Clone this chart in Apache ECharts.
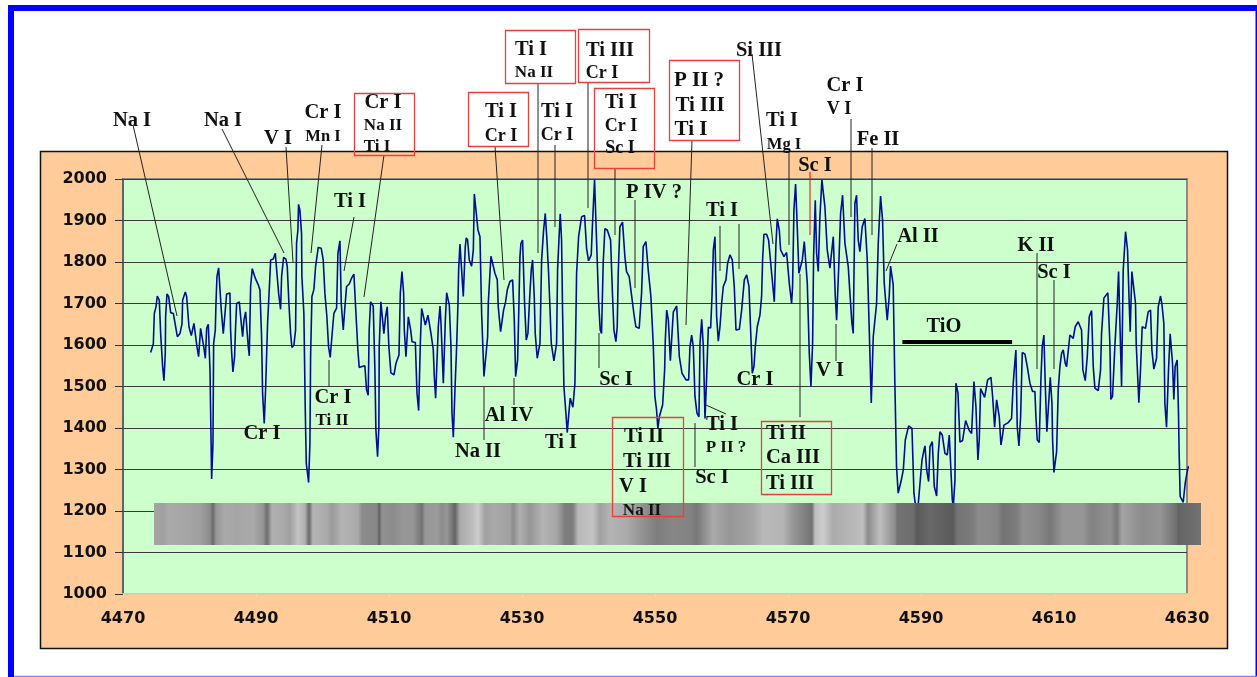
<!DOCTYPE html>
<html><head><meta charset="utf-8">
<style>html,body{margin:0;padding:0;background:#fff}#c{width:1257px;height:677px}</style>
<script src="https://cdn.jsdelivr.net/npm/echarts@6/dist/echarts.min.js"></script>
</head><body><div id="c"></div>
<script>
const xTicks = [4470,4490,4510,4530,4550,4570,4590,4610,4630];
const yTicks = [1000,1100,1200,1300,1400,1500,1600,1700,1800,1900,2000];
const wavelengths = [
4474.16,4474.56,4474.71,4474.96,4475.16,4475.46,4475.66,4475.96,4476.16,4476.36,4476.41,4476.61,4476.86,4477.17,4477.57,4478.17,4478.57,4478.87,4478.97,4479.37,
4479.57,4479.92,4480.27,4480.67,4480.87,4481.12,4481.37,4481.67,4481.92,4482.18,4482.38,4482.58,4482.83,4483.08,4483.33,4483.53,4483.63,4483.88,4483.98,4484.13,
4484.38,4484.58,4484.78,4485.08,4485.38,4485.58,4486.08,4486.18,4486.33,4486.53,4486.78,4486.93,4487.09,4487.49,4487.69,4487.99,4488.19,4488.44,4488.64,4488.84,
4488.99,4489.19,4489.44,4489.74,4489.89,4490.34,4490.59,4490.84,4490.99,4491.24,4491.44,4491.74,4492.04,4492.20,4492.60,4492.90,4493.20,4493.40,4493.70,4493.85,
4494.15,4494.50,4494.70,4494.95,4495.20,4495.40,4495.70,4495.95,4496.10,4496.30,4496.40,4496.60,4496.85,4496.90,4497.20,4497.40,4497.56,4497.91,4498.11,4498.21,
4498.41,4498.71,4498.96,4499.36,4499.81,4500.11,4500.36,4500.66,4500.91,4501.16,4501.41,4501.71,4502.12,4502.32,4502.62,4502.82,4503.12,4503.37,4503.62,4504.02,
4504.37,4504.72,4505.02,4505.32,4505.52,4505.92,4506.37,4506.62,4506.87,4507.02,4507.23,4507.63,4507.88,4508.03,4508.28,4508.48,4508.53,4508.78,4508.98,4509.23,
4509.48,4509.73,4509.98,4510.28,
4510.75,4511.05,4511.50,4511.70,4511.95,4512.20,4512.30,4512.55,4512.91,4513.26,4513.46,4513.96,4514.21,4514.46,4514.71,4514.91,4515.16,4515.46,4515.86,4516.06,
4516.31,4516.66,4516.81,4517.01,4517.21,4517.41,4517.67,4517.82,4517.97,4518.17,4518.47,4518.67,4519.07,4519.32,4519.47,4519.67,4519.92,4520.17,4520.37,4520.47,
4520.67,4520.92,4521.17,4521.47,4521.62,4521.82,4522.07,4522.42,4522.68,4522.83,4523.08,4523.38,4523.68,4523.93,4524.28,4524.48,4524.83,4524.93,4525.18,4525.33,
4525.63,4525.93,4526.28,4526.43,4526.78,4526.98,4527.23,4527.53,4527.79,4528.19,4528.59,4528.84,4529.04,4529.34,4529.54,4529.69,4529.84,4530.09,4530.39,4530.64,
4530.89,4531.19,4531.39,4531.59,4531.84,4531.99,4532.29,4532.54,4532.70,4532.95,4533.25,4533.50,4533.75,4534.00,4534.20,4534.40,4534.80,4535.20,4535.35,4535.60,
4535.75,4535.95,4536.10,4536.30,4536.60,4536.80,4537.05,4537.25,4537.65,4537.96,4538.21,4538.51,4538.96,4539.41,4539.71,4540.01,4540.41,4540.56,4540.91,4541.21,
4541.51,4541.76,4541.96,4542.21,4542.46,4542.82,4543.32,4543.62,4543.82,4544.12,4544.32,4544.47,4544.72,4545.12,4545.47,4545.72,4546.12,4546.47,4546.82,4547.12,
4547.62,4547.98,4548.23,4548.63,4548.98,4549.38,4549.73,4549.98,4550.23,4550.43,
4550.65,4551.15,4551.45,4551.55,4551.76,4552.01,4552.31,4552.56,4552.76,4553.26,4553.66,4554.06,4554.66,4555.06,4555.26,4555.51,4555.76,4556.01,4556.31,4556.61,
4556.77,4557.02,4557.27,4557.52,4557.77,4558.02,4558.37,4558.57,4558.77,4559.02,4559.27,4559.52,4559.77,4560.02,4560.27,4560.67,4560.92,4561.27,4561.62,4561.92,
4562.18,4562.68,4563.03,4563.43,4563.78,4564.13,4564.38,4564.63,4564.88,4565.08,4565.38,4565.78,4566.03,4566.18,4566.38,4566.78,4567.08,4567.54,4567.94,4568.19,
4568.39,4568.69,4568.89,4569.39,4569.79,4570.19,4570.54,4570.69,4570.89,4571.14,4571.39,4571.64,4572.15,4572.45,4572.65,4572.90,4573.20,4573.45,4573.70,4573.85,
4574.10,4574.30,4574.55,4574.80,4575.10,4575.30,4575.55,4575.90,4576.30,4576.81,4577.11,4577.31,4577.61,4577.91,4578.21,4578.56,4579.06,4579.31,4579.61,4579.81,
4580.06,4580.31,4580.56,4580.81,4581.16,4581.56,4581.92,4582.22,4582.52,4582.82,4583.32,4583.57,4583.92,4584.22,4584.47,4584.92,4585.22,4585.42,4585.82,4586.07,
4586.32,4586.57,
4586.99,4587.34,4587.64,4588.14,4588.64,4588.94,4589.19,4589.60,4589.85,4590.15,4590.45,4590.60,4590.85,4591.15,4591.35,4591.70,4592.00,4592.35,4592.60,4592.85,
4593.20,4593.60,4593.95,4594.25,4594.46,4594.71,4594.86,4595.11,4595.16,4595.26,4595.56,4595.86,4596.26,4596.71,4597.01,4597.26,4597.61,4597.96,4598.26,4598.56,
4598.76,4598.96,4599.26,4599.57,4600.02,4600.52,4600.77,4601.07,4601.37,4601.57,4601.77,4602.02,4602.27,4602.47,4603.12,4603.62,4603.87,4604.12,4604.27,4604.47,
4604.73,4604.98,4605.23,4605.63,4605.98,4606.38,4606.78,4607.13,4607.28,4607.48,4607.78,4608.03,4608.23,4608.48,4608.68,4608.93,4609.23,4609.44,4609.69,4609.79,
4609.99,4610.39,4610.64,4610.89,4611.14,4611.39,4611.69,4611.89,4612.39,4612.89,4613.19,4613.64,4614.14,4614.34,4614.70,4615.00,4615.30,4615.65,4615.90,4616.15,
4616.65,4617.00,4617.15,4617.50,4618.10,4618.40,4618.55,4618.80,4619.15,4619.51,4619.71,4619.91,4620.16,4620.41,4620.76,4621.06,4621.31,4621.46,4621.71,4622.01,
4622.26,4622.36,4622.76,4623.01,4623.26,4623.76,4624.16,4624.52,4624.72,4625.02,4625.42,4625.67,4626.02,4626.22,4626.52,4626.67,4626.92,4627.22,4627.47,4627.82,
4628.02,4628.22,4628.52,4628.72,4628.82,4628.97,4629.43,4629.73,4630.03,4630.23
];
const intensities = [
1582,1603,1676,1692,1718,1708,1628,1548,1514,1580,1668,1723,1717,1678,1676,1620,1628,1651,1708,1728,
1717,1644,1623,1652,1654,1596,1572,1640,1640,1592,1568,1640,1650,1540,1277,1363,1604,1636,1700,1765,
1786,1787,1684,1627,1684,1723,1725,1636,1584,1535,1572,1644,1700,1704,1668,1620,1660,1680,1636,1596,
1574,1741,1784,1784,1761,1745,1733,1620,1484,1411,1492,1652,1749,1805,1807,1821,1825,1725,1686,1765,
1811,1807,1789,1700,1628,1594,1600,1636,1845,1877,1939,1925,1869,1765,1676,1452,1315,1269,1363,1572,
1717,1734,1789,1835,1833,1805,1725,1668,1596,1570,1620,1676,1689,1821,1851,1700,1636,1692,1741,1747,
1761,1771,1771,1588,1546,1548,1550,1492,1479,1636,1704,1694,1540,1395,1331,1403,1596,1704,1700,1627,
1668,1692,1596,1533,
1528,1556,1576,1725,1777,1725,1636,1572,1668,1636,1608,1606,1484,1442,1604,1688,1684,1648,1672,1676,
1628,1588,1524,1472,1468,1644,1694,1652,1652,1508,1660,1726,1696,1596,1436,1378,1492,1596,1700,1781,
1843,1781,1717,1837,1858,1853,1805,1790,1829,1964,1961,1877,1861,1676,1524,1521,1620,1700,1773,1814,
1811,1773,1757,1692,1632,1630,1684,1704,1733,1753,1757,1660,1524,1564,1700,1813,1845,1853,1700,1612,
1628,1725,1781,1805,1717,1628,1568,1568,1604,1805,1877,1917,1853,1773,1692,1604,1562,1604,1781,1869,
1916,1853,1684,1500,1436,1389,1436,1472,1450,1508,1773,1861,1909,1912,1833,1803,1817,1877,1999,1853,
1708,1636,1628,1797,1880,1877,1853,1717,1636,1608,1644,1773,1885,1896,1813,1777,1765,1721,1676,1644,
1640,1725,1837,1849,1781,1717,1604,1476,1444,1399,
1427,1456,1540,1612,1684,1660,1562,1628,1680,1694,1572,1532,1516,1516,1596,1624,1596,1476,1436,1427,
1604,1662,1596,1423,1524,1643,1641,1717,1829,1861,1668,1609,1644,1700,1741,1757,1797,1817,1805,1741,
1636,1638,1684,1757,1769,1741,1636,1532,1548,1596,1644,1672,1717,1805,1867,1867,1853,1773,1704,1845,
1904,1877,1829,1813,1823,1749,1700,1741,1925,1988,1885,1773,1805,1849,1849,1749,1580,1500,1604,1813,
1949,1821,1777,1909,1998,1998,1933,1829,1785,1861,1717,1660,1781,1917,1961,1845,1789,1725,1652,1628,
1941,1961,1853,1825,1885,1905,1805,1636,1460,1620,1700,1845,1959,1901,1749,1660,1717,1790,1745,1508,
1307,1243,
1271,1299,1371,1405,1399,1243,1211,1219,1267,1323,1347,1357,1299,1271,1355,1367,1259,1236,1339,1391,
1383,1339,1335,1383,1387,1227,1211,1275,1427,1508,1484,1366,1370,1418,1415,1394,1387,1512,1452,1323,
1371,1495,1492,1474,1516,1522,1476,1402,1468,1468,1427,1359,1383,1407,1413,1423,1508,1560,1588,1403,
1357,1427,1582,1578,1548,1508,1488,1488,1427,1371,1365,1516,1596,1624,1508,1391,1468,1522,1460,1371,
1293,1343,1492,1548,1580,1588,1556,1548,1624,1616,1644,1656,1636,1540,1514,1572,1668,1683,1548,1496,
1490,1540,1628,1713,1726,1604,1469,1476,1596,1700,1777,1781,1500,1781,1873,1829,1700,1632,1777,1777,
1700,1604,1461,1540,1644,1640,1680,1684,1588,1542,1568,1692,1718,1700,1652,1460,1402,1540,1627,1556,
1469,1548,1564,1436,1339,1235,1221,1267,1295,1308
];
const tioX = [4587.2, 4603.7];
const tioY = [1607, 1607];
// spectrum strip: [pixel position, grey level]
const stripStops = [[154,165],[163,160],[168,170],[187,165],[200,160],[210,140],[213,105],[216,150],[225,170],[237,165],[253,170],[263,150],[267,110],[272,175],[283,170],[290,160],[298,195],[305,175],[309,105],[313,180],[327,170],[332,155],[342,180],[358,170],[362,140],[377,135],[379,95],[382,145],[393,140],[403,150],[413,150],[422,115],[425,150],[437,155],[442,140],[447,150],[455,100],[460,170],[473,190],[478,205],[485,160],[493,170],[510,160],[513,140],[520,175],[530,150],[543,180],[557,165],[565,125],[573,125],[578,185],[593,195],[600,160],[610,180],[627,170],[640,150],[657,125],[673,135],[690,130],[697,120],[713,170],[730,150],[753,165],[763,185],[783,180],[793,150],[812,115],[815,190],[823,205],[833,170],[847,180],[863,190],[868,140],[880,190],[895,140],[897,115],[913,110],[917,90],[930,105],[937,100],[953,90],[957,115],[973,125],[978,140],[997,135],[1003,115],[1017,125],[1023,145],[1040,135],[1050,120],[1063,150],[1083,150],[1092,130],[1110,145],[1117,120],[1122,165],[1133,150],[1143,140],[1160,150],[1177,110],[1178,100],[1201,115]];
const labels = [
["Na I",133,120,20.5],["Na I",224,120,20.5],["V I",279,138,20.5],["Cr I",324,112,20.5],["Mn I",324,136,16.5],
["Cr I",384,102,20.5],["Na II",384,125,17],["Ti I",378,146,17],
["Ti I",502,111,20.5],["Cr I",502,135,18],
["Ti I",532,49,20.5],["Na II",535,72,17],
["Ti III",611,50,20.5],["Cr I",603,72,18],
["Ti I",622,102,20.5],["Cr I",622,125,18],["Sc I",621,147,18],
["Ti I",558,111,20.5],["Cr I",558,134,18],
["P II ?",700,80,21],["Ti III",701,105,21],["Ti I",692,129,21],
["Si III",760,50,20.5],["Ti I",783,120,20.5],["Mg I",785,144,16.5],
["Cr I",846,85,20.5],["V I",840,108,18],["Fe II",879,139,20.5],["Sc I",816,165,20.5],
["P IV ?",655,192,20.5],["Ti I",351,201,20.5],["Ti I",723,210,20.5],["Al II",919,236,20.5],
["K II",1037,245,20.5],["Sc I",1055,272,20.5],["TiO",945,326,20.5],
["Cr I",263,433,20.5],["Cr I",334,397,20.5],["Ti II",333,420,17],
["Na II",479,451,20.5],["Al IV",510,415,20.5],["Ti I",562,442,20.5],["Sc I",617,379,20.5],
["Ti II",645,436,20.5],["Ti III",648,461,20.5],["V I",634,486,20.5],["Na II",643,510,17],
["Cr I",756,379,20.5],["V I",831,370,20.5],["Ti I",723,424,20.5],["P II ?",727,447,17],["Sc I",713,477,20.5],
["Ti II",787,433,20.5],["Ca III",794,457,20.5],["Ti III",791,483,20.5]
];
const leaders = [
[133,125,177,316],[222,129,284,253],[286,147,293,262],[322,145,311,253],[354,217,344,271],[384,155,364,297],
[495,146,504,280],[538,83,538,253],[555,145,555,227],[588,82,588,208],[615,168,615,235],[635,200,635,288],
[514,378,514,405],[484,387,484,440],[599,333,599,368],[329,360,329,387],[692,140,686,325],[752,54,773,244],
[789,151,789,245],[851,119,851,217],[872,148,872,235],[897,244,886,271],[720,226,720,271],[739,224,739,269],
[836,324,836,361],[800,274,800,417],[706,405,726,414],[695,423,695,467],[1037,253,1037,369],[1054,280,1054,369]
];
const redLeaders = [[810,172,810,235]];
const boxes = [[354,93,60,62],[468,92,60,54],[505,30,70,53],[578,29,71,53],[594,88,60,80],[669,60,70,80],[612,417,71,99],[761,421,70,73]];

const SERIF = '"Liberation Serif","Times New Roman",serif';
const SANS = '"DejaVu Sans",Arial,sans-serif';
const gfx = [];
gfx.push({type:'rect',z:-10,shape:{x:40.5,y:151.5,width:1187,height:497},style:{fill:'#FFCC99',stroke:'#111',lineWidth:1.5}});
gfx.push({type:'rect',z:-10,shape:{x:8,y:5,width:1249,height:6},style:{fill:'#0000FF'}});
gfx.push({type:'rect',z:-10,shape:{x:8,y:5,width:6,height:672},style:{fill:'#0000FF'}});
gfx.push({type:'rect',z:-10,shape:{x:1255.5,y:5,width:1.5,height:672},style:{fill:'#0000FF'}});
gfx.push({type:'rect',z:-10,shape:{x:14,y:675.7,width:1243,height:1.3},style:{fill:'#8080FF'}});
const grey = g => `rgb(${g},${g},${g})`;
const x0 = stripStops[0][0], x1 = stripStops[stripStops.length-1][0];
gfx.push({type:'rect',z:50,shape:{x:x0,y:503,width:x1-x0,height:42},style:{fill:new echarts.graphic.LinearGradient(0,0,1,0,stripStops.map(s=>({offset:(s[0]-x0)/(x1-x0),color:grey(s[1])})))}});
leaders.forEach(l=>gfx.push({type:'line',z:55,shape:{x1:l[0],y1:l[1],x2:l[2],y2:l[3]},style:{stroke:'#222',lineWidth:1}}));
redLeaders.forEach(l=>gfx.push({type:'line',z:55,shape:{x1:l[0],y1:l[1],x2:l[2],y2:l[3]},style:{stroke:'#ff0000',lineWidth:1}}));
boxes.forEach(b=>gfx.push({type:'rect',z:56,shape:{x:b[0]+.5,y:b[1]+.5,width:b[2],height:b[3]},style:{fill:'rgba(0,0,0,0)',stroke:'#E8403C',lineWidth:1.3}}));
labels.forEach(l=>gfx.push({type:'text',z:60,style:{text:l[0],x:l[1]-1,y:l[2]+1,align:'center',verticalAlign:'middle',fill:'#111',font:`bold ${l[3]}px ${SERIF}`}}));

const chart = echarts.init(document.getElementById('c'),null,{renderer:'canvas'});
chart.setOption({
  animation:false,
  backgroundColor:'#fff',
  grid:{left:123,right:70,top:179,bottom:83,show:true,backgroundColor:'#CCFFCC',borderColor:'#8a8a8a',borderWidth:2},
  xAxis:{type:'value',min:xTicks[0],max:xTicks[xTicks.length-1],interval:20,
    axisLine:{show:true,lineStyle:{color:'#E8C89A',width:2}},axisTick:{show:true,length:3,inside:false,lineStyle:{color:'#F0DDB8'}},splitLine:{show:false},
    axisLabel:{margin:17,color:'#111',fontFamily:SANS,fontWeight:'bold',fontSize:16,formatter:v=>String(v)}},
  yAxis:{type:'value',min:yTicks[0],max:yTicks[yTicks.length-1],interval:100,
    axisLine:{show:true,lineStyle:{color:'#555',width:1.5}},axisTick:{show:true,length:8,lineStyle:{color:'#333'}},
    splitLine:{show:true,lineStyle:{color:'#3a3a3a',width:1}},
    axisLabel:{margin:16,color:'#111',fontFamily:SANS,fontWeight:'bold',fontSize:16,formatter:v=>String(v)}},
  graphic:{elements:gfx},
  series:[
    {type:'line',data:wavelengths.map((x,i)=>[x,intensities[i]]),showSymbol:false,symbol:'none',clip:false,smooth:false,z:5,
      lineStyle:{color:'#000E96',width:1.6},silent:true},
    {type:'line',data:tioX.map((x,i)=>[x,tioY[i]]),showSymbol:false,symbol:'none',clip:false,z:6,
      lineStyle:{color:'#000',width:4,cap:'butt'},silent:true}
  ]
});
</script></body></html>
